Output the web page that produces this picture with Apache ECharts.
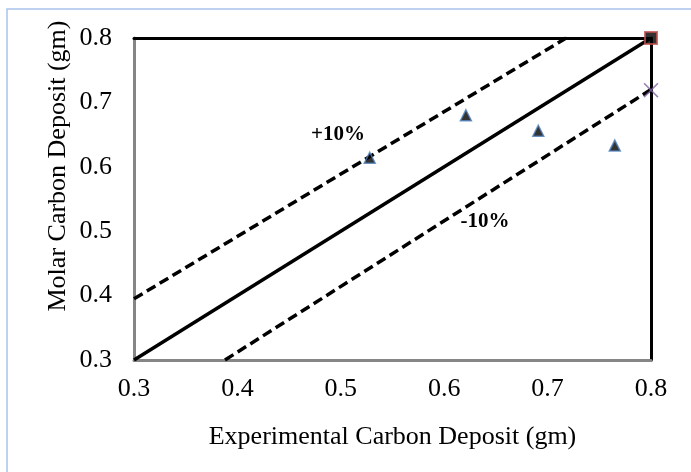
<!DOCTYPE html>
<html>
<head>
<meta charset="utf-8">
<script src="https://cdn.jsdelivr.net/npm/echarts@6/dist/echarts.min.js"></script>
<style>
  html,body{margin:0;padding:0;background:#fff;}
  #main{width:691px;height:472px;}
</style>
</head>
<body>
<div id="main"></div>
<script>
// 数据
var expDeposit = [0.528, 0.621, 0.691, 0.765];
var molarDeposit = [0.614, 0.680, 0.656, 0.633];
var squarePoint = [[0.8, 0.8]];
var crossPoint = [[0.8, 0.719]];
var parityLine = [[0.3, 0.3], [0.8, 0.8]];
var upperLine = [[0.3, 0.395], [0.718, 0.8]];
var lowerLine = [[0.388, 0.3], [0.8, 0.72]];
var axisMin = 0.3, axisMax = 0.8, axisStep = 0.1;

var font = '"Liberation Serif", "Times New Roman", serif';
var crossPath = 'path://M0,1.5L1.5,0L10,8.5L18.5,0L20,1.5L11.5,10L20,18.5L18.5,20L10,11.5L1.5,20L0,18.5L8.5,10Z';

var triData = expDeposit.map(function (x, i) { return [x, molarDeposit[i]]; });

var chart = echarts.init(document.getElementById('main'));
var option = {
    animation: false,
    backgroundColor: '#fff',
    grid: { left: 134, right: 40, top: 38, bottom: 112 },
    xAxis: [{
        type: 'value', min: axisMin, max: axisMax, interval: axisStep,
        splitLine: { show: false },
        axisTick: { show: false },
        axisLine: { lineStyle: { color: '#868686', width: 3 } },
        axisLabel: {
            margin: 16, color: '#000', fontFamily: font, fontSize: 26,
            formatter: function (v) { return v.toFixed(1); }
        },
        name: 'Experimental Carbon Deposit (gm)',
        nameLocation: 'middle', nameGap: 64,
        nameTextStyle: { color: '#000', fontFamily: font, fontSize: 26 }
    }, {
        type: 'value', min: axisMin, max: axisMax, position: 'top',
        splitLine: { show: false }, axisTick: { show: false }, axisLabel: { show: false },
        axisLine: { lineStyle: { color: '#000', width: 3 } }
    }],
    yAxis: [{
        type: 'value', min: axisMin, max: axisMax, interval: axisStep,
        splitLine: { show: false },
        axisTick: { show: false },
        axisLine: { lineStyle: { color: '#868686', width: 3 } },
        axisLabel: {
            margin: 22, color: '#000', fontFamily: font, fontSize: 26,
            formatter: function (v) { return v.toFixed(1); }
        }
    }, {
        type: 'value', min: axisMin, max: axisMax, position: 'right',
        splitLine: { show: false }, axisTick: { show: false }, axisLabel: { show: false },
        axisLine: { lineStyle: { color: '#000', width: 3 } }
    }],
    graphic: [{
        type: 'rect', silent: true, z: -1,
        shape: { x: 7, y: 9, width: 720, height: 500 },
        style: { fill: 'none', stroke: '#a9c4ea', lineWidth: 1.5 }
    }, {
        type: 'text', x: 58, y: 166, rotation: Math.PI / 2,
        style: {
            text: 'Molar Carbon Deposit (gm)', fill: '#000',
            font: '26px ' + font, textAlign: 'center', textVerticalAlign: 'middle'
        }
    }, {
        type: 'text', x: 338, y: 135,
        style: {
            text: '+10%', fill: '#000', font: 'bold 21px ' + font,
            textAlign: 'center', textVerticalAlign: 'middle'
        }
    }, {
        type: 'text', x: 485, y: 222,
        style: {
            text: '-10%', fill: '#000', font: 'bold 21px ' + font,
            textAlign: 'center', textVerticalAlign: 'middle'
        }
    }],
    series: [{
        type: 'line', data: parityLine, showSymbol: false, z: 3,
        lineStyle: { color: '#000', width: 3.5, type: 'solid' }
    }, {
        type: 'line', data: upperLine, showSymbol: false, z: 3,
        lineStyle: { color: '#000', width: 3.5, type: [10, 5] }
    }, {
        type: 'line', data: lowerLine, showSymbol: false, z: 3,
        lineStyle: { color: '#000', width: 3.5, type: [10, 5] }
    }, {
        type: 'scatter', data: triData, symbol: 'triangle', symbolSize: 11, z: 4,
        itemStyle: { color: '#000', borderColor: '#4f81bd', borderWidth: 1.5 }
    }, {
        type: 'scatter', data: squarePoint, symbol: 'rect', symbolSize: 12, z: 5,
        itemStyle: { color: '#000', borderColor: '#c0504d', borderWidth: 2 }
    }, {
        type: 'scatter', data: crossPoint, symbol: crossPath, symbolSize: 15, z: 5,
        itemStyle: { color: '#8064a2' }
    }]
};
chart.setOption(option, true);
</script>
</body>
</html>
